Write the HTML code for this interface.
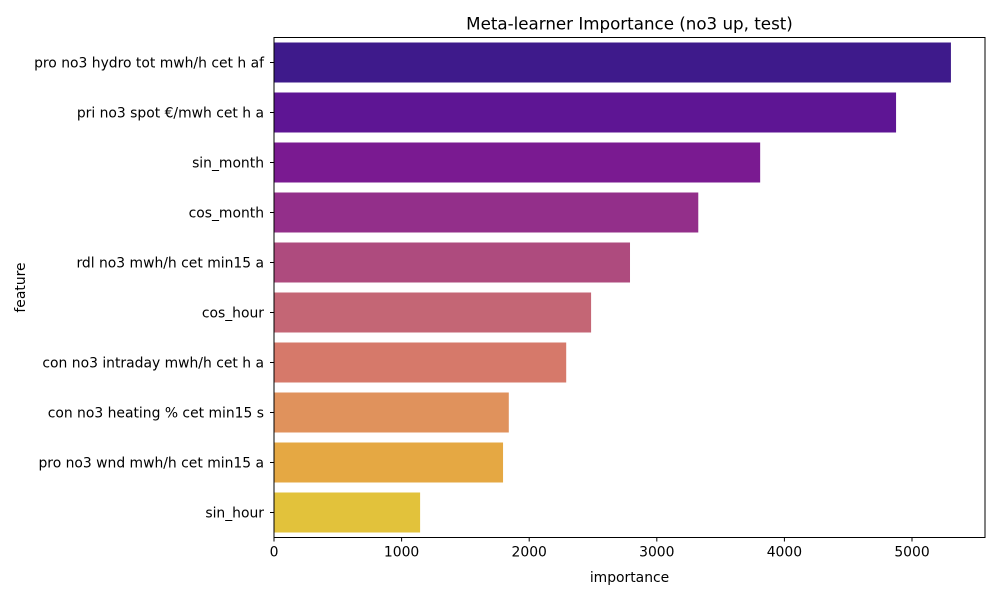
<!DOCTYPE html>
<html><head><meta charset="utf-8"><style>
body{margin:0;background:#fff;font-family:"DejaVu Sans","Liberation Sans",sans-serif;}
</style></head><body>
<svg id="chart" width="1000" height="600" xmlns="http://www.w3.org/2000/svg" font-family="DejaVu Sans, Liberation Sans, sans-serif"></svg>
<script>
const categories=["pro no3 hydro tot mwh/h cet h af","pri no3 spot €/mwh cet h a","sin_month","cos_month","rdl no3 mwh/h cet min15 a","cos_hour","con no3 intraday mwh/h cet h a","con no3 heating % cet min15 s","pro no3 wnd mwh/h cet min15 a","sin_hour"];
const values=[5305,4875,3810,3325,2790,2485,2290,1840,1795,1145];
const colors=["#3e1a8b","#5e1594","#7a1a91","#932f8a","#ae4b7e","#c46675","#d6796a","#e0925c","#e5a843","#e2c23b"];
const xTicks=[0,1000,2000,3000,4000,5000];
const NS="http://www.w3.org/2000/svg";
const svg=document.getElementById('chart');
const L=274,R=985,T=37.5,B=537.5,xMax=5572;
const x=v=>L+v/xMax*(R-L);
const band=(B-T)/categories.length;
const y=i=>T+i*band;
function el(t,a,txt){const e=document.createElementNS(NS,t);for(const k in a)e.setAttribute(k,a[k]);if(txt!==undefined)e.textContent=txt;svg.appendChild(e);return e;}
categories.forEach((c,i)=>{
  const r=el('rect',{x:x(0),y:y(i)+band*0.1,width:x(values[i])-x(0),height:band*0.8,fill:colors[i]});
  
  
  const t=el('text',{x:L-10,y:y(i)+band/2+5,'text-anchor':'end','font-size':13.9,fill:'#000'},c);
  
  
  el('line',{x1:L-4,x2:L,y1:y(i)+band/2,y2:y(i)+band/2,stroke:'#000','stroke-width':1});
});
xTicks.forEach(v=>{
  el('line',{x1:x(v),x2:x(v),y1:B,y2:B+4,stroke:'#000','stroke-width':1});
  const t=el('text',{x:x(v),y:B+19,'text-anchor':'middle','font-size':13.9,fill:'#000'},v);
  
  
});
const f=el('rect',{x:L,y:T,width:R-L,height:B-T,fill:'none',stroke:'#000','stroke-width':1});


const tt=el('text',{x:(L+R)/2,y:T-8,'text-anchor':'middle','font-size':16.7,fill:'#000'},'Meta-learner Importance (no3 up, test)');


const xt=el('text',{x:(L+R)/2,y:582,'text-anchor':'middle','font-size':13.9,fill:'#000'},'importance');


const yt=el('text',{x:25,y:(T+B)/2,'text-anchor':'middle','font-size':13.9,fill:'#000',transform:'rotate(-90 25 '+((T+B)/2)+')'},'feature');


</script>
</body></html>
